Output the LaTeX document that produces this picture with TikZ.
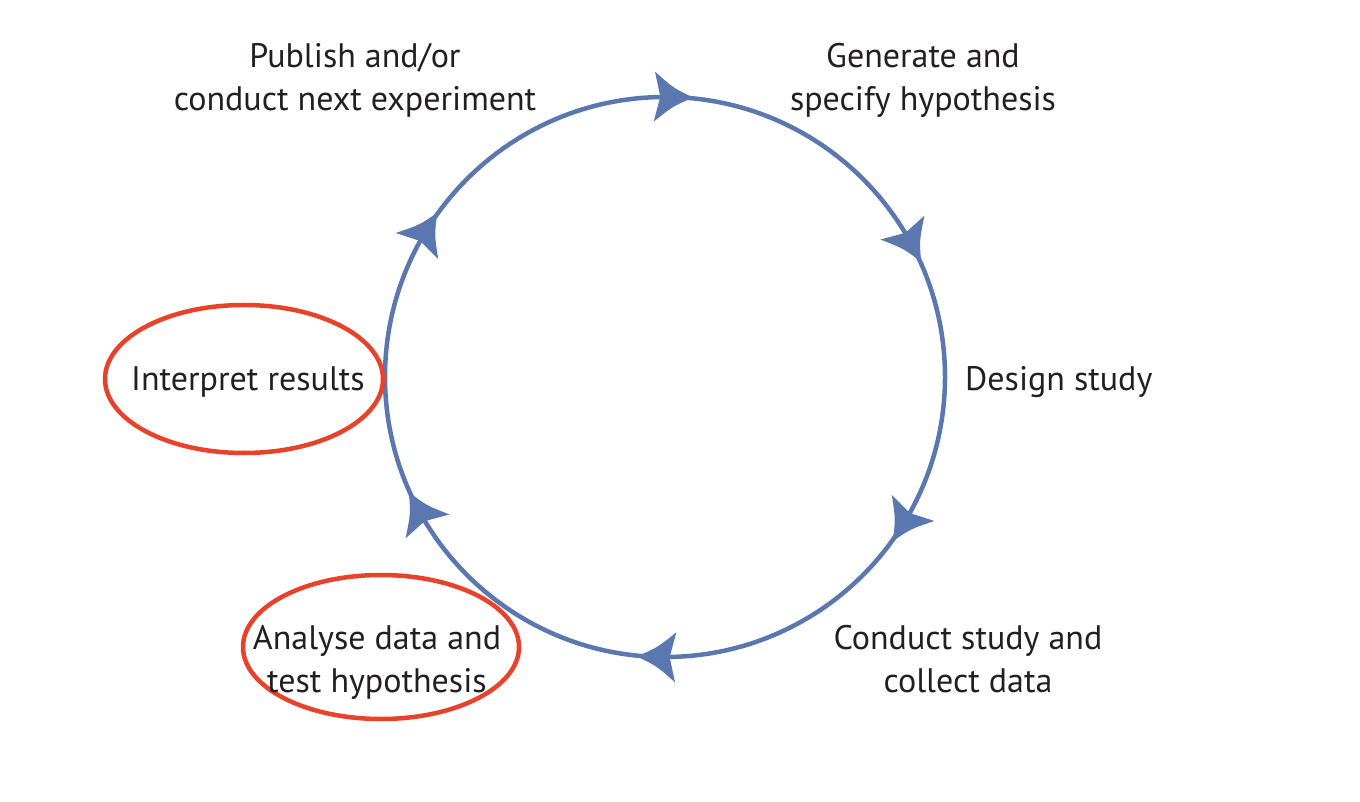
\documentclass[tikz,border=0pt]{standalone}
\usepackage{fontspec}
\setmainfont{PT Sans}
\definecolor{cycleblue}{HTML}{5B77B0}
\definecolor{ringred}{HTML}{E8432A}
\definecolor{txt}{HTML}{231F20}
\begin{document}
\begin{tikzpicture}[x=1pt,y=1pt,
  lbl/.style={font=\fontsize{34}{43}\selectfont, text=txt, align=center, inner sep=0pt, anchor=base},
  ring/.style={draw=ringred, line width=4.5pt},
  cyc/.style={draw=cycleblue, line width=4.5pt},
  arrowhd/.style={fill=cycleblue, draw=none}]
\useasboundingbox[fill=white] (0,-802) rectangle (1360,0);
\coordinate (c) at (665,-377);
\draw[cyc] (c) circle [radius=280];
\foreach \a in {88.5,28.5,-31.5,-91.5,-151.5,148.5} {
  \begin{scope}[shift={(c)}]
  \begin{scope}[shift={(\a:280)}, rotate=\a-90]
    \fill[arrowhd] (21,0) .. controls (1,9) .. (-18,25) -- (-12,0) -- (-18,-25) .. controls (1,-9) .. (21,0) -- cycle;
  \end{scope}
  \end{scope}
}
\draw[ring] (244,-379) ellipse [x radius=139, y radius=74];
\draw[ring] (381,-647) ellipse [x radius=138, y radius=72];
\node[lbl] (publish) at (355,-111) {Publish and/or\\conduct next experiment};
\node[lbl] (generate) at (923,-111) {Generate and\\specify hypothesis};
\node[lbl, anchor=base west] (design) at (965,-390) {Design study};
\node[lbl] (conduct) at (968,-692) {Conduct study and\\collect data};
\node[lbl] (analyse) at (377,-692) {Analyse data and\\test hypothesis};
\node[lbl] (interpret) at (248,-390) {Interpret results};
\end{tikzpicture}
\end{document}
